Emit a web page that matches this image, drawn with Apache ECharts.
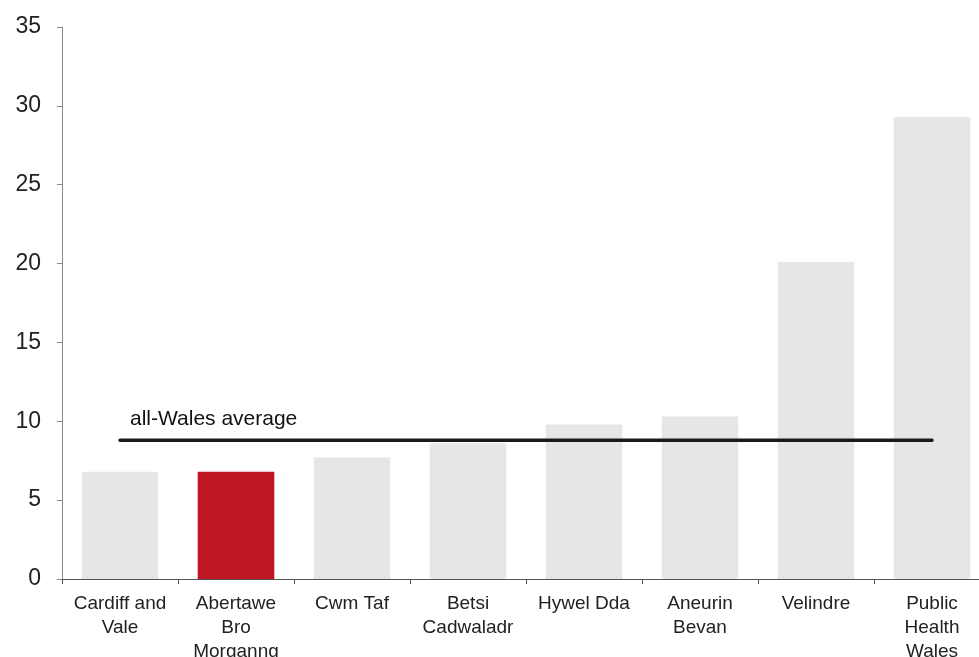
<!DOCTYPE html>
<html><head><meta charset="utf-8">
<script src="https://cdn.jsdelivr.net/npm/echarts@6/dist/echarts.min.js"></script>
<style>html,body{margin:0;padding:0;background:#fff}#c{width:979px;height:657px}</style>
</head><body><div id="c"></div>
<script>
const categories = ['Cardiff and\nVale','Abertawe\nBro\nMorganng','Cwm Taf','Betsi\nCadwaladr','Hywel Dda','Aneurin\nBevan','Velindre','Public\nHealth\nWales'];
const values = [6.8, 6.8, 7.7, 8.6, 9.8, 10.3, 20.1, 29.3];
const highlightIndex = 1;
const averageValue = 8.8;
const averageLabel = 'all-Wales average';
const yTicks = {min: 0, max: 35, interval: 5};

const chart = echarts.init(document.getElementById('c'), null, {renderer: 'canvas'});
chart.setOption({
  animation: false,
  grid: {left: 62, top: 27, width: 928, height: 552, containLabel: false, outerBoundsMode: 'none'},
  xAxis: {
    type: 'category', data: categories,
    axisLine: {lineStyle: {color: '#555', width: 1}},
    axisTick: {show: true, length: 5, lineStyle: {color: '#555'}},
    axisLabel: {color: '#222', fontFamily: 'Liberation Sans', fontSize: 19, lineHeight: 24, margin: 13, interval: 0}
  },
  yAxis: {
    type: 'value', min: yTicks.min, max: yTicks.max, interval: yTicks.interval,
    axisLine: {show: true, lineStyle: {color: '#888', width: 1}},
    axisTick: {show: true, length: 5, lineStyle: {color: '#888'}},
    splitLine: {show: false},
    axisLabel: {color: '#222', fontFamily: 'Liberation Sans', fontSize: 23, margin: 21}
  },
  series: [
    {
      type: 'bar', barCategoryGap: '34%',
      data: values.map((v, i) => ({value: v, itemStyle: {color: i === highlightIndex ? '#be1622' : '#e5e6e8'}})),
      silent: true
    },
    {
      type: 'line', symbol: 'circle', symbolSize: 0.01, showSymbol: true, silent: true,
      itemStyle: {color: '#1a1a1a', opacity: 0},
      lineStyle: {color: '#1a1a1a', width: 3.5, cap: 'round'},
      data: categories.map((c, i) => ({
        value: averageValue,
        label: i === 0 ? {show: true, formatter: averageLabel, position: 'top', align: 'left', offset: [10, -6], fontFamily: 'Liberation Sans', fontSize: 21, color: '#111', opacity: 1} : {show: false}
      }))
    }
  ]
});
</script></body></html>
